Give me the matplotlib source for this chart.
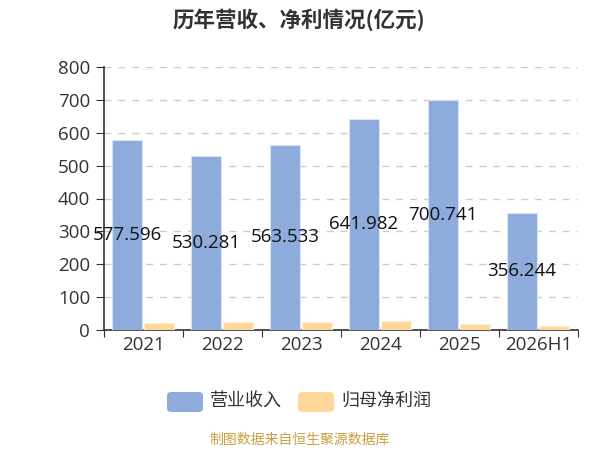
import numpy as np
import matplotlib.pyplot as plt
from matplotlib.patches import FancyBboxPatch

plt.rcParams['font.family'] = ['Open Sans', 'Noto Sans CJK SC', 'DejaVu Sans']

years = ["2021", "2022", "2023", "2024", "2025", "2026H1"]
revenue = [577.596, 530.281, 563.533, 641.982, 700.741, 356.244]
net_profit = [22.0, 24.0, 25.0, 26.5, 19.0, 13.0]

blue = "#8eacdb"
orange = "#fed89a"
cjk = ['Noto Sans CJK SC', 'DejaVu Sans']

fig = plt.figure(figsize=(6, 4.5), dpi=100)
ax = fig.add_axes([104/600, 1 - 330/450, 474/600, 263/450])

x = np.arange(len(years))
w = 0.375
ax.bar(x - 0.21, revenue, w, color=blue, edgecolor="#d6e2f3", linewidth=0.8, zorder=3)
ax.bar(x + 0.2, net_profit, w, color=orange, edgecolor="#fff0d6", linewidth=0.8, zorder=3)

for xi, v in zip(x, revenue):
    ax.text(xi - 0.21, v / 2, f"{v:.3f}", ha="center", va="center",
            fontsize=13.5, color="#111111", zorder=4)

ax.set_xlim(-0.5, len(years) - 0.5)
ax.set_ylim(0, 800)
ax.set_yticks(range(0, 801, 100))
ax.set_xticks(np.arange(-0.5, len(years)), minor=False)
ax.set_xticklabels([])
ax.set_xticks(x, minor=True)
ax.set_xticklabels(years, minor=True, fontsize=13.5, color="#333333")
ax.tick_params(axis="x", which="minor", length=0, pad=4)
ax.tick_params(axis="x", which="major", length=5, color="#333333")
ax.tick_params(axis="y", length=6, color="#333333", labelsize=13.5, labelcolor="#333333", pad=4)

ax.grid(axis="y", color="#cccccc", linestyle=(0, (5, 5)), linewidth=1, zorder=0)
for s in ["top", "right"]:
    ax.spines[s].set_visible(False)
for s in ["left", "bottom"]:
    ax.spines[s].set_color("#333333")
    ax.spines[s].set_linewidth(1.2)

fig.text(299/600, 1 - 20/450, "历年营收、净利情况(亿元)", ha="center", va="center",
         fontsize=15.5, fontweight="bold", color="#333333", family=cjk)

# legend
for px, col, label in [(167, blue, "营业收入"), (298, orange, "归母净利润")]:
    patch = FancyBboxPatch((px/600, 1 - 412/450), 36/600, 20/450,
                           boxstyle="round,pad=0,rounding_size=0.008",
                           transform=fig.transFigure, facecolor=col, edgecolor="none")
    fig.patches.append(patch)
    fig.text((px + 43)/600, 1 - 401/450, label, ha="left", va="center",
             fontsize=13, color="#333333", family=cjk)

fig.text(300/600, 1 - 440/450, "制图数据来自恒生聚源数据库", ha="center", va="center",
         fontsize=10, color="#c9a040", family=cjk)

fig.savefig("out.png", dpi=100)
